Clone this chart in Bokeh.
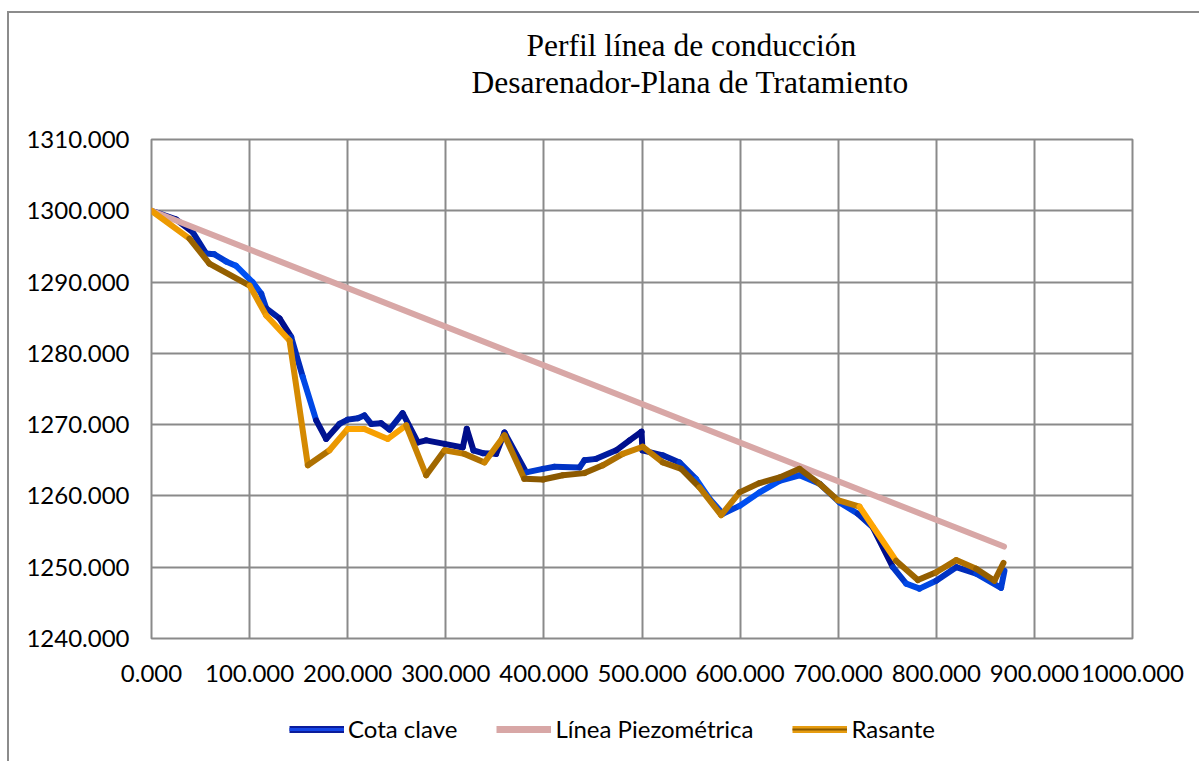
import math
from bokeh.plotting import figure
from bokeh.layouts import column
from bokeh.models import (FixedTicker, PrintfTickFormatter, Title, Legend, LegendItem,
                          Range1d, ColumnDataSource)
from bokeh.embed import file_html
from bokeh.resources import INLINE

# ---------------- data ----------------
cota_x = [0, 25, 42, 55.7, 64, 76, 86, 103, 111.8, 117, 130.5, 142.4, 154.2, 167.9, 178,
          191.6, 200, 210.4, 217, 224, 234, 242.6, 256, 271.5, 280, 298.7, 317.3, 321.4,
          328.2, 337.7, 351.3, 359.8, 382, 399, 410.8, 436.3, 441.4, 453.3, 473.7, 487.3,
          499.5, 500.5, 521.2, 538.2, 555, 568.8, 582.4, 599.4, 619.8, 640.2, 660.6, 681,
          701.3, 720, 735.3, 755.7, 769.3, 782.9, 799.9, 820.3, 840.7, 866, 869.5]
cota_y = [1300, 1298.8, 1297.0, 1294.0, 1293.9, 1292.9, 1292.3, 1290.0, 1288.4, 1286.3,
          1284.9, 1282.3, 1276.7, 1270.6, 1268.0, 1270.1, 1270.7, 1270.9, 1271.3, 1270.1,
          1270.2, 1269.3, 1271.6, 1267.5, 1267.8, 1267.3, 1266.8, 1269.4, 1266.4, 1266.0,
          1265.9, 1268.9, 1263.3, 1263.8, 1264.1, 1264.0, 1265.0, 1265.2, 1266.4, 1267.8,
          1269.0, 1266.4, 1265.7, 1264.7, 1262.4, 1259.6, 1257.5, 1258.6, 1260.5, 1262.1,
          1262.9, 1261.7, 1259.1, 1257.5, 1255.6, 1250.0, 1247.7, 1247.0, 1248.1, 1250.0,
          1249.1, 1247.1, 1249.5]

piezo_x = [0, 869]
piezo_y = [1300, 1252.9]

rasante_x = [0, 38.7, 59, 100, 117, 140.7, 159.4, 181.4, 200, 217, 240.9, 259.6, 280, 298.7,
             319, 339.4, 359.8, 380, 398.9, 419.3, 441.4, 460, 480.4, 500.8, 521.2, 540,
             558.6, 580.7, 599.4, 619.8, 640.2, 660.6, 681, 699.6, 721.7, 759, 781.2, 799.9,
             820.3, 840.7, 859.3, 868.5]
rasante_y = [1300, 1296.1, 1292.6, 1289.5, 1285.3, 1281.8, 1264.3, 1266.4, 1269.4, 1269.4,
             1268.0, 1269.9, 1262.9, 1266.4, 1265.9, 1264.7, 1268.5, 1262.4, 1262.3, 1262.9,
             1263.2, 1264.3, 1265.9, 1266.9, 1264.7, 1263.8, 1261.2, 1257.3, 1260.5, 1261.8,
             1262.6, 1263.8, 1261.7, 1259.4, 1258.5, 1250.9, 1248.2, 1249.3, 1251.0, 1249.8,
             1248.1, 1250.6]

series_names = ["Cota clave", "Línea Piezométrica", "Rasante"]
x_ticks = [0, 100, 200, 300, 400, 500, 600, 700, 800, 900, 1000]
y_ticks = [1240, 1250, 1260, 1270, 1280, 1290, 1300, 1310]
title_lines = ["Perfil línea de conducción", "Desarenador-Plana de Tratamiento"]

# ---------------- styling helpers (gradient look) ----------------
def mix(c1, c2, t):
    a = [int(c1[i:i + 2], 16) for i in (1, 3, 5)]
    b = [int(c2[i:i + 2], 16) for i in (1, 3, 5)]
    return "#%02x%02x%02x" % tuple(round(a[k] + (b[k] - a[k]) * t) for k in range(3))

def seg_source(xs, ys, c_a, c_b, phase):
    x0, y0, x1, y1, col = [], [], [], [], []
    for i in range(len(xs) - 1):
        x0.append(xs[i]); y0.append(ys[i]); x1.append(xs[i + 1]); y1.append(ys[i + 1])
        ym = (ys[i] + ys[i + 1]) / 2
        t = 0.5 + 0.5 * math.cos(2 * math.pi * (ym - phase) / 15.0)
        col.append(mix(c_b, c_a, t))
    return ColumnDataSource(dict(x0=x0, y0=y0, x1=x1, y1=y1, c=col))

BLUE_DARK, BLUE_BRIGHT = "#000e8a", "#0052f5"
ORANGE, BROWN = "#ffa602", "#8a5800"
PINK = "#d8a7a6"
GRID = "#8a8a8a"
FONT = "Lato"

# ---------------- main chart ----------------
p = figure(frame_width=981, frame_height=499, output_backend="svg", toolbar_location=None,
           x_range=Range1d(0, 1000), y_range=Range1d(1240, 1310), title=None,
           min_border_left=142, min_border_right=67, min_border_top=126, min_border_bottom=60)
p.background_fill_color = "white"
p.border_fill_color = "white"
p.outline_line_color = GRID
p.outline_line_width = 2

for ax in (p.xaxis, p.yaxis):
    ax.axis_line_color = None
    ax.major_tick_line_color = None
    ax.minor_tick_line_color = None
    ax.major_tick_out = 0
    ax.major_tick_in = 0
    ax.major_label_text_font = FONT
    ax.major_label_text_font_size = "24px"
    ax.major_label_text_color = "#000000"
    ax.formatter = PrintfTickFormatter(format="%.3f")
p.xaxis.ticker = FixedTicker(ticks=x_ticks)
p.yaxis.ticker = FixedTicker(ticks=y_ticks)
p.xaxis.major_label_standoff = 26
p.yaxis.major_label_standoff = 22

p.xgrid.ticker = FixedTicker(ticks=x_ticks)
p.ygrid.ticker = FixedTicker(ticks=y_ticks)
for g in (p.xgrid, p.ygrid):
    g.grid_line_color = GRID
    g.grid_line_width = 2

src_c = seg_source(cota_x, cota_y, BLUE_DARK, BLUE_BRIGHT, 1298)
src_r = seg_source(rasante_x, rasante_y, ORANGE, BROWN, 1300)

p.segment("x0", "y0", "x1", "y1", source=src_c, line_color="c", line_width=6,
          line_cap="round")
p.line(piezo_x, piezo_y, line_color=PINK, line_width=6, line_cap="round")
p.segment("x0", "y0", "x1", "y1", source=src_r, line_color="c", line_width=6,
          line_cap="round")

# title: spacer nearest the plot, then second line, then first line
p.add_layout(Title(text=" ", standoff=37, text_font_size="1px"), "above")
p.add_layout(Title(text=title_lines[1], align="left", offset=320, standoff=0,
                   text_font="Liberation Serif", text_font_size="31.5px",
                   text_font_style="normal", text_color="#000000"), "above")
p.add_layout(Title(text=title_lines[0], align="left", offset=375, standoff=0,
                   text_font="Liberation Serif", text_font_size="31.5px",
                   text_font_style="normal", text_color="#000000"), "above")

# ---------------- legend strip (same horizontal frame as the chart) ----------------
lg = figure(frame_width=981, frame_height=63, output_backend="svg", toolbar_location=None,
            x_range=Range1d(0, 1000), y_range=Range1d(0, 1), title=None,
            x_axis_type=None, y_axis_type=None,
            min_border_left=142, min_border_right=67, min_border_top=0, min_border_bottom=0)
lg.outline_line_color = None
lg.grid.visible = False
lg.background_fill_color = "white"
lg.border_fill_color = "white"

# legend-key renderers (series drawn outside this strip's visible y-range)
k_c1 = lg.line(cota_x, cota_y, line_color="#0a1c9c", line_width=7)
k_c2 = lg.line(cota_x, cota_y, line_color="#1446e6", line_width=3)
k_p = lg.line(piezo_x, piezo_y, line_color=PINK, line_width=7)
k_r1 = lg.line(rasante_x, rasante_y, line_color="#e69c10", line_width=7)
k_r2 = lg.line(rasante_x, rasante_y, line_color="#8a5a00", line_width=2)

legend = Legend(items=[LegendItem(label=series_names[0], renderers=[k_c1, k_c2]),
                       LegendItem(label=series_names[1], renderers=[k_p]),
                       LegendItem(label=series_names[2], renderers=[k_r1, k_r2])],
                orientation="horizontal", location=(138, 18),
                glyph_width=55, glyph_height=20, label_standoff=4, spacing=39,
                padding=0, margin=0, border_line_color=None, background_fill_alpha=0,
                label_text_font=FONT, label_text_font_size="24px", label_text_color="#000000")
lg.add_layout(legend, "center")

layout = column(p, lg, spacing=0)
layout.styles = {"border-left": "2px solid #8c8c8c", "border-top": "2px solid #8c8c8c",
                 "margin-top": "11px", "margin-left": "7px"}

open("out.html", "w").write(file_html(layout, INLINE))
